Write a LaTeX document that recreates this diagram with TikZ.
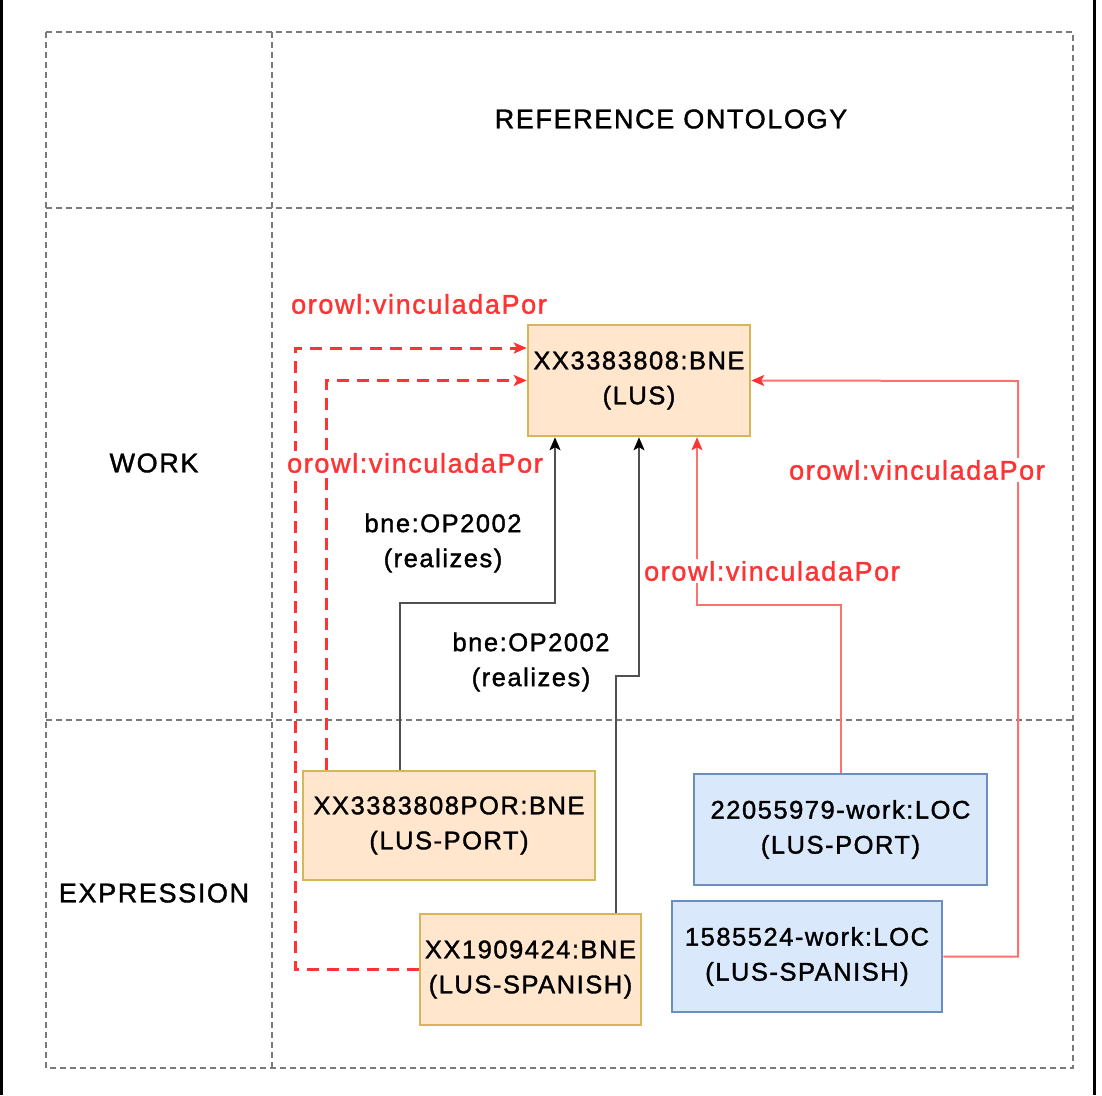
\documentclass[tikz,border=0pt]{standalone}
\usepackage{fontspec}
\setmainfont{Liberation Sans}[LetterSpace=6,FakeBold=1.4]
\usetikzlibrary{arrows.meta}
\definecolor{peachfill}{HTML}{FFE6CC}
\definecolor{peachline}{HTML}{D6B656}
\definecolor{bluefill}{HTML}{DAE8FC}
\definecolor{blueline}{HTML}{6C8EBF}
\definecolor{redtxt}{HTML}{FF3333}
\definecolor{redline}{HTML}{FF7070}
\definecolor{gridgray}{HTML}{7A7A7A}
\definecolor{darkline}{HTML}{505050}
\begin{document}
\begin{tikzpicture}[x=1pt,y=-1pt,
  txt/.style={font=\fontsize{27}{35}\selectfont, align=center, inner sep=0pt},
  smalltxt/.style={font=\fontsize{25.5}{35}\selectfont, align=center, inner sep=0pt},
  peachbox/.style={smalltxt, draw=peachline, fill=peachfill, line width=2.5pt},
  bluebox/.style={smalltxt, draw=blueline, fill=bluefill, line width=2.5pt},
  gridline/.style={draw=gridgray, line width=2pt, dash pattern=on 6pt off 4pt},
  redlbl/.style={txt, text=redtxt, fill=white, inner sep=2pt},
  blklbl/.style={smalltxt, fill=white, inner sep=2pt},
  blkarrow/.style={draw=darkline, line width=2pt, -{Stealth[length=13pt,width=11pt,inset=3pt,color=black]}},
  redarrow/.style={draw=redline, line width=2pt, -{Stealth[length=13pt,width=11pt,inset=3pt,color=redtxt]}},
  reddash/.style={draw=redtxt, line width=3pt, dash pattern=on 12pt off 8pt, -{Stealth[length=13pt,width=11pt,inset=3pt,color=redtxt]}}
]
\useasboundingbox (0,0) rectangle (1102,1095);
\draw[line width=2.5pt] (1.5,0) -- (1.5,1095);
\draw[line width=2.5pt] (1094.5,0) -- (1094.5,1095);

% grid
\draw[gridline] (46,32) rectangle (1073,1068);
\draw[gridline] (272,32) -- (272,1068);
\draw[gridline] (46,208) -- (1073,208);
\draw[gridline] (46,720) -- (1073,720);

\node[txt] (title) at (671,119) {REFERENCE ONTOLOGY};
\node[txt] (work) at (154,463) {WORK};
\node[txt] (expr) at (154,893) {EXPRESSION};

% boxes
\node[peachbox, minimum width=222pt, minimum height=111pt] (lus) at (639,380.5) {XX3383808:BNE\\(LUS)};
\node[peachbox, minimum width=292pt, minimum height=109pt] (por) at (449,825.5) {XX3383808POR:BNE\\(LUS-PORT)};
\node[peachbox, minimum width=221pt, minimum height=111pt] (spa) at (530.5,969.5) {XX1909424:BNE\\(LUS-SPANISH)};
\node[bluebox, minimum width=293pt, minimum height=111pt] (lc1) at (840.5,829.5) {22055979-work:LOC\\(LUS-PORT)};
\node[bluebox, minimum width=270pt, minimum height=111pt] (lc2) at (807,956.5) {1585524-work:LOC\\(LUS-SPANISH)};

% connectors
\draw[reddash] (326,0 |- por.north) |- (lus.west);
\draw[reddash] (spa.west) -| (295,348) -- (lus.west |- 0,348);
\draw[blkarrow] (400,0 |- por.north) |- (555,603) -- (555,0 |- lus.south);
\draw[blkarrow] (616,0 |- spa.north) |- (639,676) -- (lus.south);
\draw[redarrow] (lc1.north) |- (697,605) -- (697,0 |- lus.south);
\draw[redarrow] (lc2.east) -| (1018,381) -- (lus.east);

% labels
\node[redlbl] (l1) at (419,304) {orowl:vinculadaPor};
\node[redlbl] (l2) at (415,463) {orowl:vinculadaPor};
\node[redlbl] (l3) at (772,571) {orowl:vinculadaPor};
\node[redlbl] (l4) at (917,470) {orowl:vinculadaPor};
\node[blklbl] (b1) at (443,543) {bne:OP2002\\(realizes)};
\node[blklbl] (b2) at (531,662) {bne:OP2002\\(realizes)};
\end{tikzpicture}
\end{document}
